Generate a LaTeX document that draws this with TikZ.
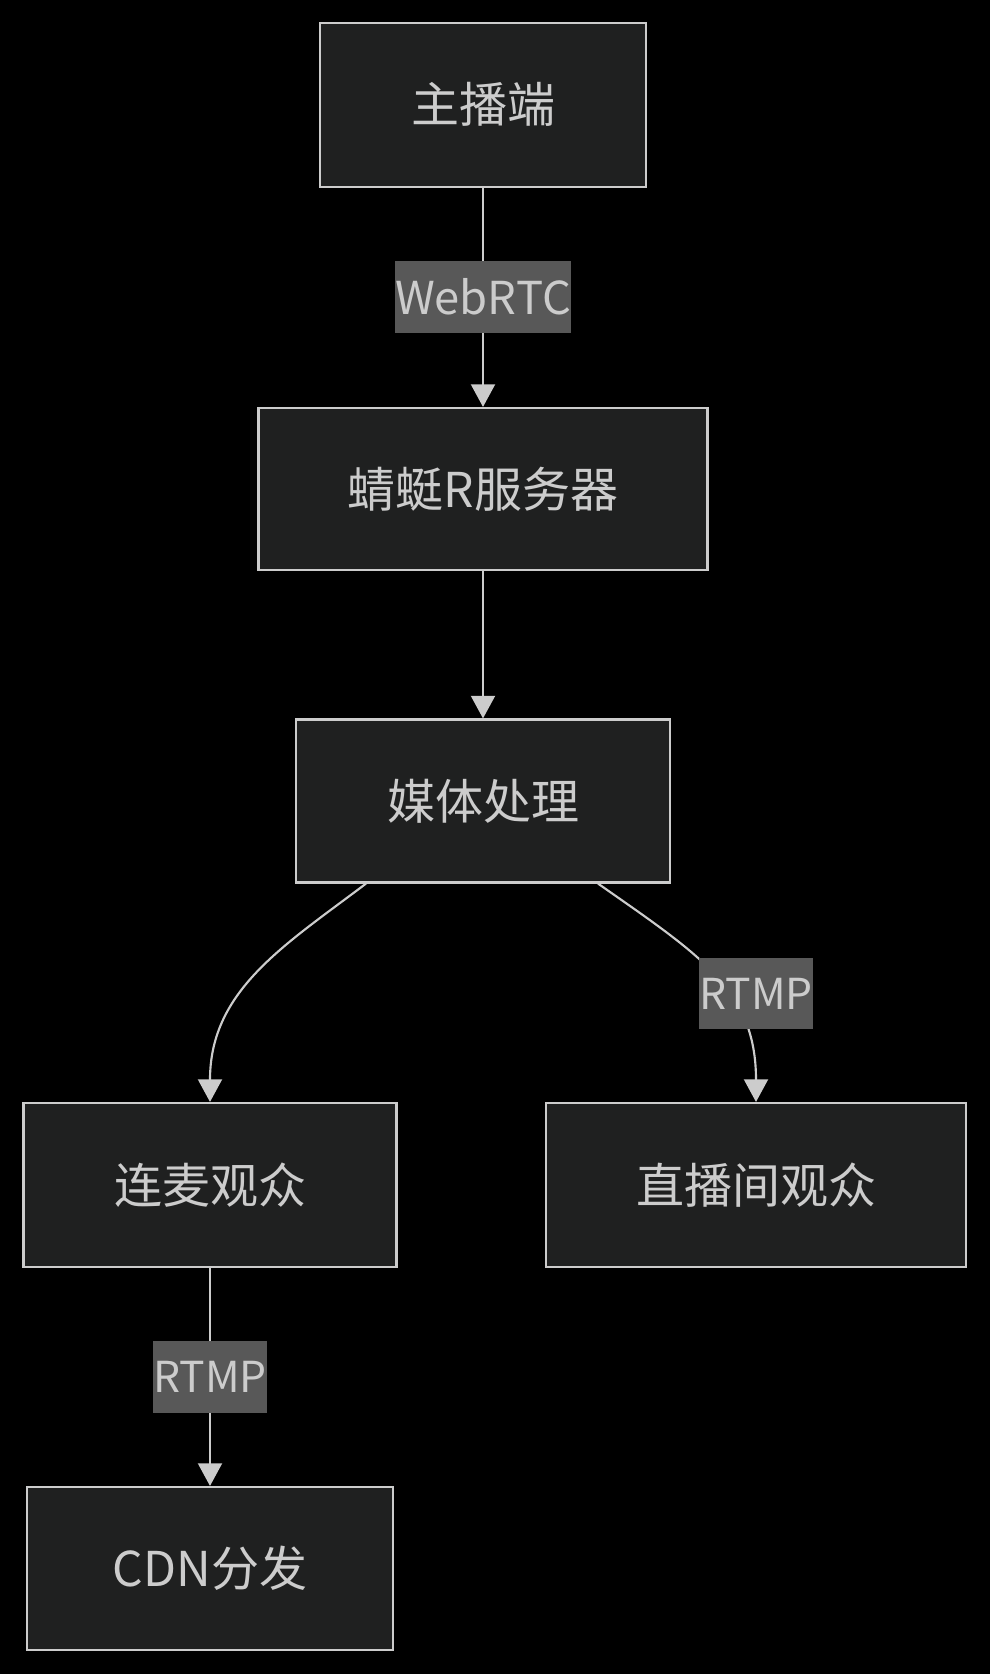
\documentclass[tikz,border=0pt]{standalone}
\usepackage{fontspec}
\setmainfont{Noto Sans CJK SC}
\usetikzlibrary{arrows.meta}
\definecolor{nodefill}{HTML}{1F2020}
\definecolor{edgecol}{HTML}{CCCCCC}
\definecolor{txt}{HTML}{CCCCCC}
\definecolor{lblfill}{HTML}{585858}
\begin{document}
\begin{tikzpicture}[x=0.75pt,y=-0.75pt,
 box/.style={draw=edgecol, line width=1.6pt, fill=nodefill, text=txt, inner sep=0pt, font=\fontsize{36}{42}\selectfont},
 lbl/.style={fill=lblfill, text=txt, inner sep=0pt, font=\fontsize{34}{40}\selectfont},
 lblsmall/.style={lbl, font=\fontsize{32}{40}\selectfont},
 flow/.style={draw=edgecol, line width=1.6pt, -{Triangle[length=17pt,width=18pt]}}]
\fill[black] (0,0) rectangle (990,1674);
\useasboundingbox (0,0) rectangle (990,1674);
\node[box, minimum width=244.5pt, minimum height=123pt] (n1) at (483,104.7) {主播端};
\node[box, minimum width=336.75pt, minimum height=121.5pt] (n2) at (483,489) {蜻蜓R服务器};
\node[box, minimum width=280.5pt, minimum height=122.25pt] (n3) at (483,801) {媒体处理};
\node[box, minimum width=279.75pt, minimum height=123pt] (n4) at (210,1185) {连麦观众};
\node[box, minimum width=315pt, minimum height=123pt] (n5) at (756,1185) {直播间观众};
\node[box, minimum width=274.5pt, minimum height=122.25pt] (n6) at (210,1568.5) {CDN分发};
\draw[flow] (n1.south) -- (n2.north);
\draw[flow] (n2.south) -- (n3.north);
\draw[flow] ([xshift=-87.75pt]n3.south) .. controls (285,945) and (210,990) .. (n4.north);
\draw[flow] ([xshift=86.25pt]n3.south) .. controls (700,955) and (756,990) .. (n5.north);
\draw[flow] (n4.south) -- (n6.north);
\node[lbl, minimum width=130.5pt, minimum height=54pt] (l1) at (483,297) {WebRTC};
\node[lblsmall, minimum width=85.5pt, minimum height=53.25pt] (l2) at (756,993.5) {RTMP};
\node[lblsmall, minimum width=85.5pt, minimum height=54pt] (l3) at (210,1377) {RTMP};
\end{tikzpicture}
\end{document}
